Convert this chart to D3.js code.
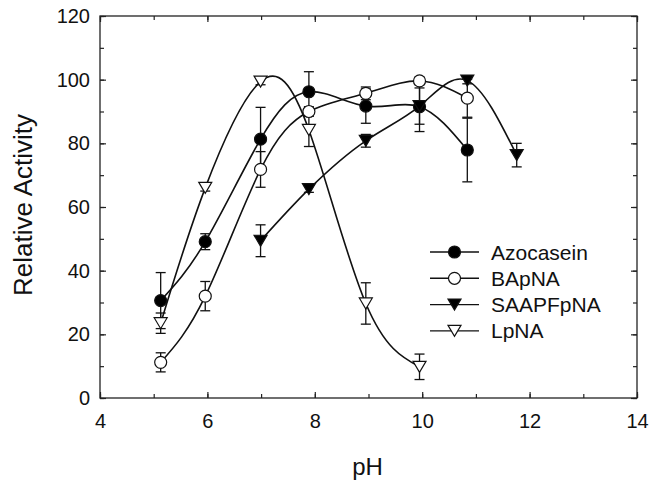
<!DOCTYPE html>
<html>
<head>
<meta charset="utf-8">
<script src="https://cdn.jsdelivr.net/npm/d3@7"></script>
<style>
  body { margin: 0; background: #fff; }
  svg { font-family: "Liberation Sans", Arial, sans-serif; }
</style>
</head>
<body>
<script>
// pH values where each series was measured
const phAzo = [5.13, 5.96, 6.99, 7.89, 8.95, 9.95, 10.84]
const azocasein = [30.6, 49.1, 81.3, 96.2, 91.7, 91.5, 77.9]
const azocaseinErr = [8.8, 2.5, 10, 6.3, 5.4, 7.8, 10]

const phBap = [5.13, 5.96, 6.99, 7.89, 8.95, 9.95, 10.84]
const bapna = [11.2, 32, 71.8, 90, 95.7, 99.6, 94.2]
const bapnaErr = [3, 4.6, 5.6, 1.5, 2, 1.2, 6]

const phSaap = [6.99, 7.89, 8.95, 9.95, 10.84, 11.76]
const saapfpna = [49.4, 65.6, 80.8, 91.7, 99.7, 76.3]
const saapfpnaErr = [5, 1, 2, 5.7, 1, 3.7]

const phLp = [5.13, 5.96, 6.99, 7.89, 8.95, 9.95]
const lpna = [23.5, 66, 99.4, 84.2, 29.7, 9.8]
const lpnaErr = [3.2, 1, 1, 5.2, 6.5, 4]

const xTicks = [4, 6, 8, 10, 12, 14]
const yTicks = [0, 20, 40, 60, 80, 100, 120]
const seriesNames = ["Azocasein", "BApNA", "SAAPFpNA", "LpNA"]

const series = [
    {name: seriesNames[0], x: phAzo, y: azocasein, err: azocaseinErr, shape: "circle", fill: "#000"},
    {name: seriesNames[1], x: phBap, y: bapna, err: bapnaErr, shape: "circle", fill: "#fff"},
    {name: seriesNames[2], x: phSaap, y: saapfpna, err: saapfpnaErr, shape: "tri", fill: "#000"},
    {name: seriesNames[3], x: phLp, y: lpna, err: lpnaErr, shape: "tri", fill: "#fff"}
]

const width = 649
const height = 482
const plotLeft = 100, plotRight = 637, plotTop = 16, plotBottom = 398

const xScale = d3.scaleLinear().domain([4, 14]).range([plotLeft, plotRight])
const yScale = d3.scaleLinear().domain([0, 120]).range([plotBottom, plotTop])

let svg = d3.select("body").append("svg")
    .attr("width", width)
    .attr("height", height)

// frame
svg.append("rect")
    .attr("x", plotLeft).attr("y", plotTop)
    .attr("width", plotRight - plotLeft).attr("height", plotBottom - plotTop)
    .attr("fill", "none").attr("stroke", "#222").attr("stroke-width", 1.3)

function styleAxis(g) {
    g.select(".domain").remove()
    g.selectAll(".tick line").attr("stroke", "#222").attr("stroke-width", 1.2)
    g.selectAll(".tick text").attr("fill", "#111").attr("font-size", 20)
}

const xMinor = d3.range(4, 14.01, 1)
const yMinor = d3.range(0, 120.01, 10)

// bottom axis
svg.append("g").attr("transform", `translate(0,${plotBottom})`)
    .call(d3.axisBottom(xScale).tickValues(xMinor).tickSize(-4).tickFormat(""))
    .call(styleAxis)
svg.append("g").attr("transform", `translate(0,${plotBottom})`)
    .call(d3.axisBottom(xScale).tickValues(xTicks).tickSize(-6).tickPadding(16).tickFormat(d3.format("d")))
    .call(styleAxis)
// top axis
svg.append("g").attr("transform", `translate(0,${plotTop})`)
    .call(d3.axisTop(xScale).tickValues(xMinor).tickSize(-4).tickFormat(""))
    .call(styleAxis)
svg.append("g").attr("transform", `translate(0,${plotTop})`)
    .call(d3.axisTop(xScale).tickValues(xTicks).tickSize(-6).tickFormat(""))
    .call(styleAxis)
// left axis
svg.append("g").attr("transform", `translate(${plotLeft},0)`)
    .call(d3.axisLeft(yScale).tickValues(yMinor).tickSize(-4).tickFormat(""))
    .call(styleAxis)
svg.append("g").attr("transform", `translate(${plotLeft},0)`)
    .call(d3.axisLeft(yScale).tickValues(yTicks).tickSize(-6).tickPadding(10).tickFormat(d3.format("d")))
    .call(styleAxis)
// right axis
svg.append("g").attr("transform", `translate(${plotRight},0)`)
    .call(d3.axisRight(yScale).tickValues(yMinor).tickSize(-4).tickFormat(""))
    .call(styleAxis)
svg.append("g").attr("transform", `translate(${plotRight},0)`)
    .call(d3.axisRight(yScale).tickValues(yTicks).tickSize(-6).tickFormat(""))
    .call(styleAxis)

// axis titles
svg.append("text")
    .attr("x", 367.5)
    .attr("y", 475)
    .attr("text-anchor", "middle")
    .attr("font-size", 24)
    .attr("fill", "#111")
    .text("pH")

svg.append("text")
    .attr("transform", `translate(32,205) rotate(-90)`)
    .attr("text-anchor", "middle")
    .attr("font-size", 26)
    .attr("fill", "#111")
    .text("Relative Activity")

const line = d3.line()
    .x(d => xScale(d[0]))
    .y(d => yScale(d[1]))
    .curve(d3.curveNatural)

// curves
series.forEach(s => {
    const pts = s.x.map((v, i) => [v, s.y[i]])
    svg.append("path")
        .datum(pts)
        .attr("d", line)
        .attr("fill", "none")
        .attr("stroke", "#111")
        .attr("stroke-width", 1.6)
})

// error bars
series.forEach(s => {
    const g = svg.append("g").attr("stroke", "#111").attr("stroke-width", 1.3)
    s.x.forEach((v, i) => {
        const cx = xScale(v)
        const y1 = yScale(s.y[i] + s.err[i])
        const y2 = yScale(s.y[i] - s.err[i])
        g.append("line").attr("x1", cx).attr("x2", cx).attr("y1", y1).attr("y2", y2)
        g.append("line").attr("x1", cx - 5).attr("x2", cx + 5).attr("y1", y1).attr("y2", y1)
        g.append("line").attr("x1", cx - 5).attr("x2", cx + 5).attr("y1", y2).attr("y2", y2)
    })
})

function drawMarker(g, shape, fill, cx, cy) {
    if (shape == "circle") {
        g.append("circle")
            .attr("cx", cx).attr("cy", cy).attr("r", 6)
            .attr("fill", fill).attr("stroke", "#111").attr("stroke-width", 1.2)
    } else {
        const w = 6.5, h = 11
        g.append("path")
            .attr("d", `M${cx - w},${cy - h / 2}L${cx + w},${cy - h / 2}L${cx},${cy + h / 2}Z`)
            .attr("fill", fill).attr("stroke", "#111").attr("stroke-width", 1.2)
    }
}

// markers
series.forEach(s => {
    const g = svg.append("g")
    s.x.forEach((v, i) => drawMarker(g, s.shape, s.fill, xScale(v), yScale(s.y[i])))
})

// legend
const legend = svg.append("g")
series.forEach((s, i) => {
    const ly = 252 + i * 26.3
    legend.append("line")
        .attr("x1", 430).attr("x2", 479).attr("y1", ly).attr("y2", ly)
        .attr("stroke", "#111").attr("stroke-width", 1.4)
    drawMarker(legend, s.shape, s.fill, 454.5, ly)
    legend.append("text")
        .attr("x", 491).attr("y", ly + 7.5)
        .attr("font-size", 21)
        .attr("fill", "#111")
        .text(s.name)
})
</script>
</body>
</html>
